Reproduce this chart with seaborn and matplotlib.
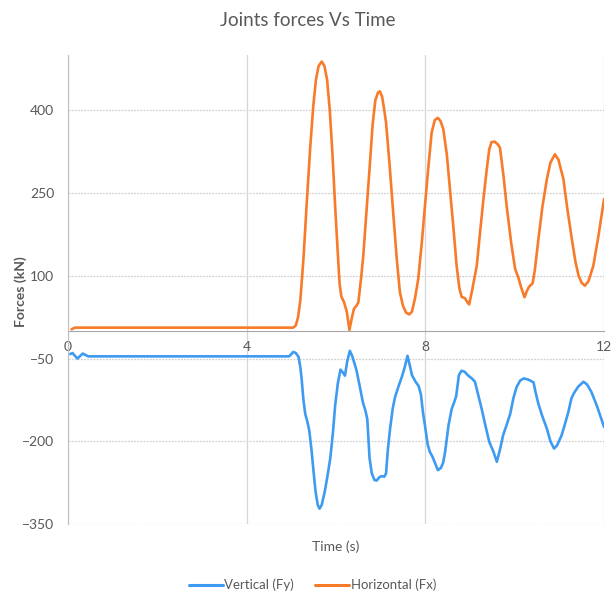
import numpy as np
import pandas as pd
import matplotlib
matplotlib.use("Agg")
import matplotlib.pyplot as plt
import seaborn as sns

# ========== data ==========
t_fx = [0.08, 0.15, 0.3, 1.0, 2.0, 3.0, 4.0, 5.04, 5.10, 5.15, 5.20, 5.27, 5.34, 5.42, 5.49,
        5.55, 5.61, 5.68, 5.74, 5.80, 5.86, 5.92, 5.98, 6.04, 6.08, 6.12, 6.18, 6.24, 6.30,
        6.35, 6.40, 6.46, 6.50, 6.56, 6.61, 6.68, 6.76, 6.82, 6.88, 6.94, 6.98, 7.03, 7.08,
        7.12, 7.20, 7.28, 7.36, 7.43, 7.50, 7.57, 7.64, 7.70, 7.77, 7.84, 7.92, 7.99, 8.07,
        8.14, 8.21, 8.28, 8.34, 8.40, 8.48, 8.55, 8.63, 8.70, 8.76, 8.81, 8.89, 8.94, 8.98,
        9.05, 9.15, 9.22, 9.30, 9.37, 9.43, 9.48, 9.55, 9.62, 9.67, 9.75, 9.82, 9.92, 10.01,
        10.08, 10.14, 10.22, 10.27, 10.32, 10.40, 10.45, 10.53, 10.62, 10.72, 10.80, 10.90,
        10.98, 11.09, 11.18, 11.28, 11.36, 11.43, 11.50, 11.57, 11.65, 11.76, 11.88, 12.0]
fx = [3, 6, 6, 6, 6, 6, 6, 6, 10, 25, 55, 130, 226, 330, 407,
      455, 480, 488, 480, 455, 400, 320, 226, 140, 85, 62, 52, 35, 2,
      22, 40, 46, 52, 95, 136, 215, 305, 375, 418, 432, 434, 425, 400,
      377, 300, 214, 130, 70, 45, 33, 30, 35, 60, 94, 160, 226, 300,
      359, 382, 386, 380, 366, 320, 257, 185, 118, 78, 62, 59, 52, 48,
      75, 118, 175, 239, 290, 329, 342, 343, 338, 332, 280, 226, 160, 112,
      97, 80, 61, 72, 80, 86, 110, 166, 225, 275, 305, 320,
      310, 275, 220, 166, 125, 100, 87, 82, 90, 118, 175, 239]

t_fy = [0.05, 0.1, 0.21, 0.33, 0.45, 1.0, 2.0, 3.0, 4.0, 4.95, 5.00, 5.04, 5.10, 5.16, 5.20,
        5.23, 5.27, 5.31, 5.36, 5.40, 5.45, 5.49, 5.54, 5.59, 5.63, 5.68, 5.75, 5.81, 5.87,
        5.93, 5.98, 6.04, 6.10, 6.15, 6.20, 6.25, 6.31, 6.36, 6.41, 6.46, 6.53, 6.60, 6.66,
        6.70, 6.75, 6.80, 6.86, 6.91, 6.97, 7.02, 7.08, 7.12, 7.16, 7.21, 7.27, 7.32, 7.40,
        7.47, 7.53, 7.60, 7.65, 7.70, 7.78, 7.85, 7.90, 7.95, 7.99, 8.05, 8.10, 8.16, 8.22,
        8.28, 8.35, 8.40, 8.44, 8.52, 8.59, 8.65, 8.69, 8.75, 8.81, 8.88, 8.96, 9.04, 9.11,
        9.18, 9.26, 9.34, 9.43, 9.52, 9.60, 9.67, 9.74, 9.82, 9.90, 9.97, 10.04, 10.12, 10.20,
        10.30, 10.42, 10.47, 10.53, 10.62, 10.72, 10.80, 10.88, 10.95, 11.05, 11.12, 11.20,
        11.27, 11.33, 11.42, 11.54, 11.62, 11.72, 11.85, 12.0]
fy = [-42, -40, -50, -41, -46, -46, -46, -46, -46, -46, -42, -38, -40, -47, -65,
      -87, -125, -150, -165, -180, -215, -249, -290, -315, -322, -315, -290, -262, -231,
      -185, -135, -95, -70, -75, -81, -55, -36, -45, -58, -72, -100, -129, -145,
      -160, -230, -258, -270, -271, -265, -263, -264, -258, -215, -177, -140, -120, -100,
      -84, -68, -45, -62, -80, -92, -100, -115, -150, -171, -205, -219, -228, -240,
      -252, -248, -238, -220, -170, -141, -128, -118, -80, -72, -74, -81, -86, -92,
      -115, -141, -170, -201, -218, -237, -215, -189, -170, -150, -122, -102, -90, -86,
      -88, -93, -112, -132, -155, -177, -200, -213, -207, -189, -170, -147,
      -122, -112, -101, -92, -97, -111, -138, -174]

series_names = ["Vertical (Fy)", "Horizontal (Fx)"]
colors = ["#3E9BF2", "#F87B2A"]
y_ticks = [-350, -200, -50, 100, 250, 400]
x_ticks = [0, 4, 8, 12]

df = pd.concat([
    pd.DataFrame({"Time": t_fy, "Force": fy, "Series": series_names[0]}),
    pd.DataFrame({"Time": t_fx, "Force": fx, "Series": series_names[1]}),
], ignore_index=True)

# ========== style ==========
sns.set_style("white")
plt.rcParams["font.family"] = ["Lato", "DejaVu Sans"]
grey_txt = "#595959"

fig = plt.figure(figsize=(6.15, 5.97), dpi=100)
ax = fig.add_axes([0.1106, 0.122, 0.8716, 0.786])

sns.lineplot(data=df, x="Time", y="Force", hue="Series", hue_order=series_names,
             palette=colors, sort=False, estimator=None, linewidth=1.9, ax=ax, legend=False)
for ln in ax.get_lines():
    ln.set_solid_joinstyle("round")

ax.set_xlim(0, 12)
ax.set_ylim(-350, 500)
ax.set_yticks(y_ticks)
ax.set_xticks(x_ticks)

# gridlines
for yv in y_ticks:
    ax.axhline(yv, color="#D0D0D0", linewidth=0.9, linestyle=(0, (1.5, 1)), zorder=0)
for xv in x_ticks:
    ax.axvline(xv, color="#D6D6D6", linewidth=0.9, zorder=0)

ax.spines["top"].set_visible(False)
ax.spines["right"].set_visible(False)
ax.spines["left"].set_color("#BFBFBF")
ax.spines["bottom"].set_position(("data", 0))
ax.spines["bottom"].set_color("#A6A6A6")
ax.spines["bottom"].set_zorder(1)

ax.tick_params(axis="both", length=0, labelsize=10, labelcolor=grey_txt)
ax.tick_params(axis="x", pad=7)
ax.tick_params(axis="y", pad=10)
ax.set_xlabel("")
ax.set_ylabel("")

ax.text(0.5, -0.035, "Time (s)", transform=ax.transAxes, ha="center", va="top",
        fontsize=10, color=grey_txt)
fig.text(0.033, 0.512, "Forces (kN)", rotation=90, ha="center", va="center",
         fontsize=10, color=grey_txt, fontweight="bold")
fig.text(0.5, 0.966, "Joints forces Vs Time", ha="center", va="center",
         fontsize=13.5, color=grey_txt)

handles = [plt.Line2D([], [], color=c, linewidth=2.2) for c in colors]
fig.legend(handles, series_names, loc="center", bbox_to_anchor=(0.508, 0.02),
           ncol=2, frameon=False, fontsize=9.5, labelcolor=grey_txt,
           handlelength=2.6, handletextpad=0.1, columnspacing=1.6)

plt.savefig("out.png", dpi=100)
